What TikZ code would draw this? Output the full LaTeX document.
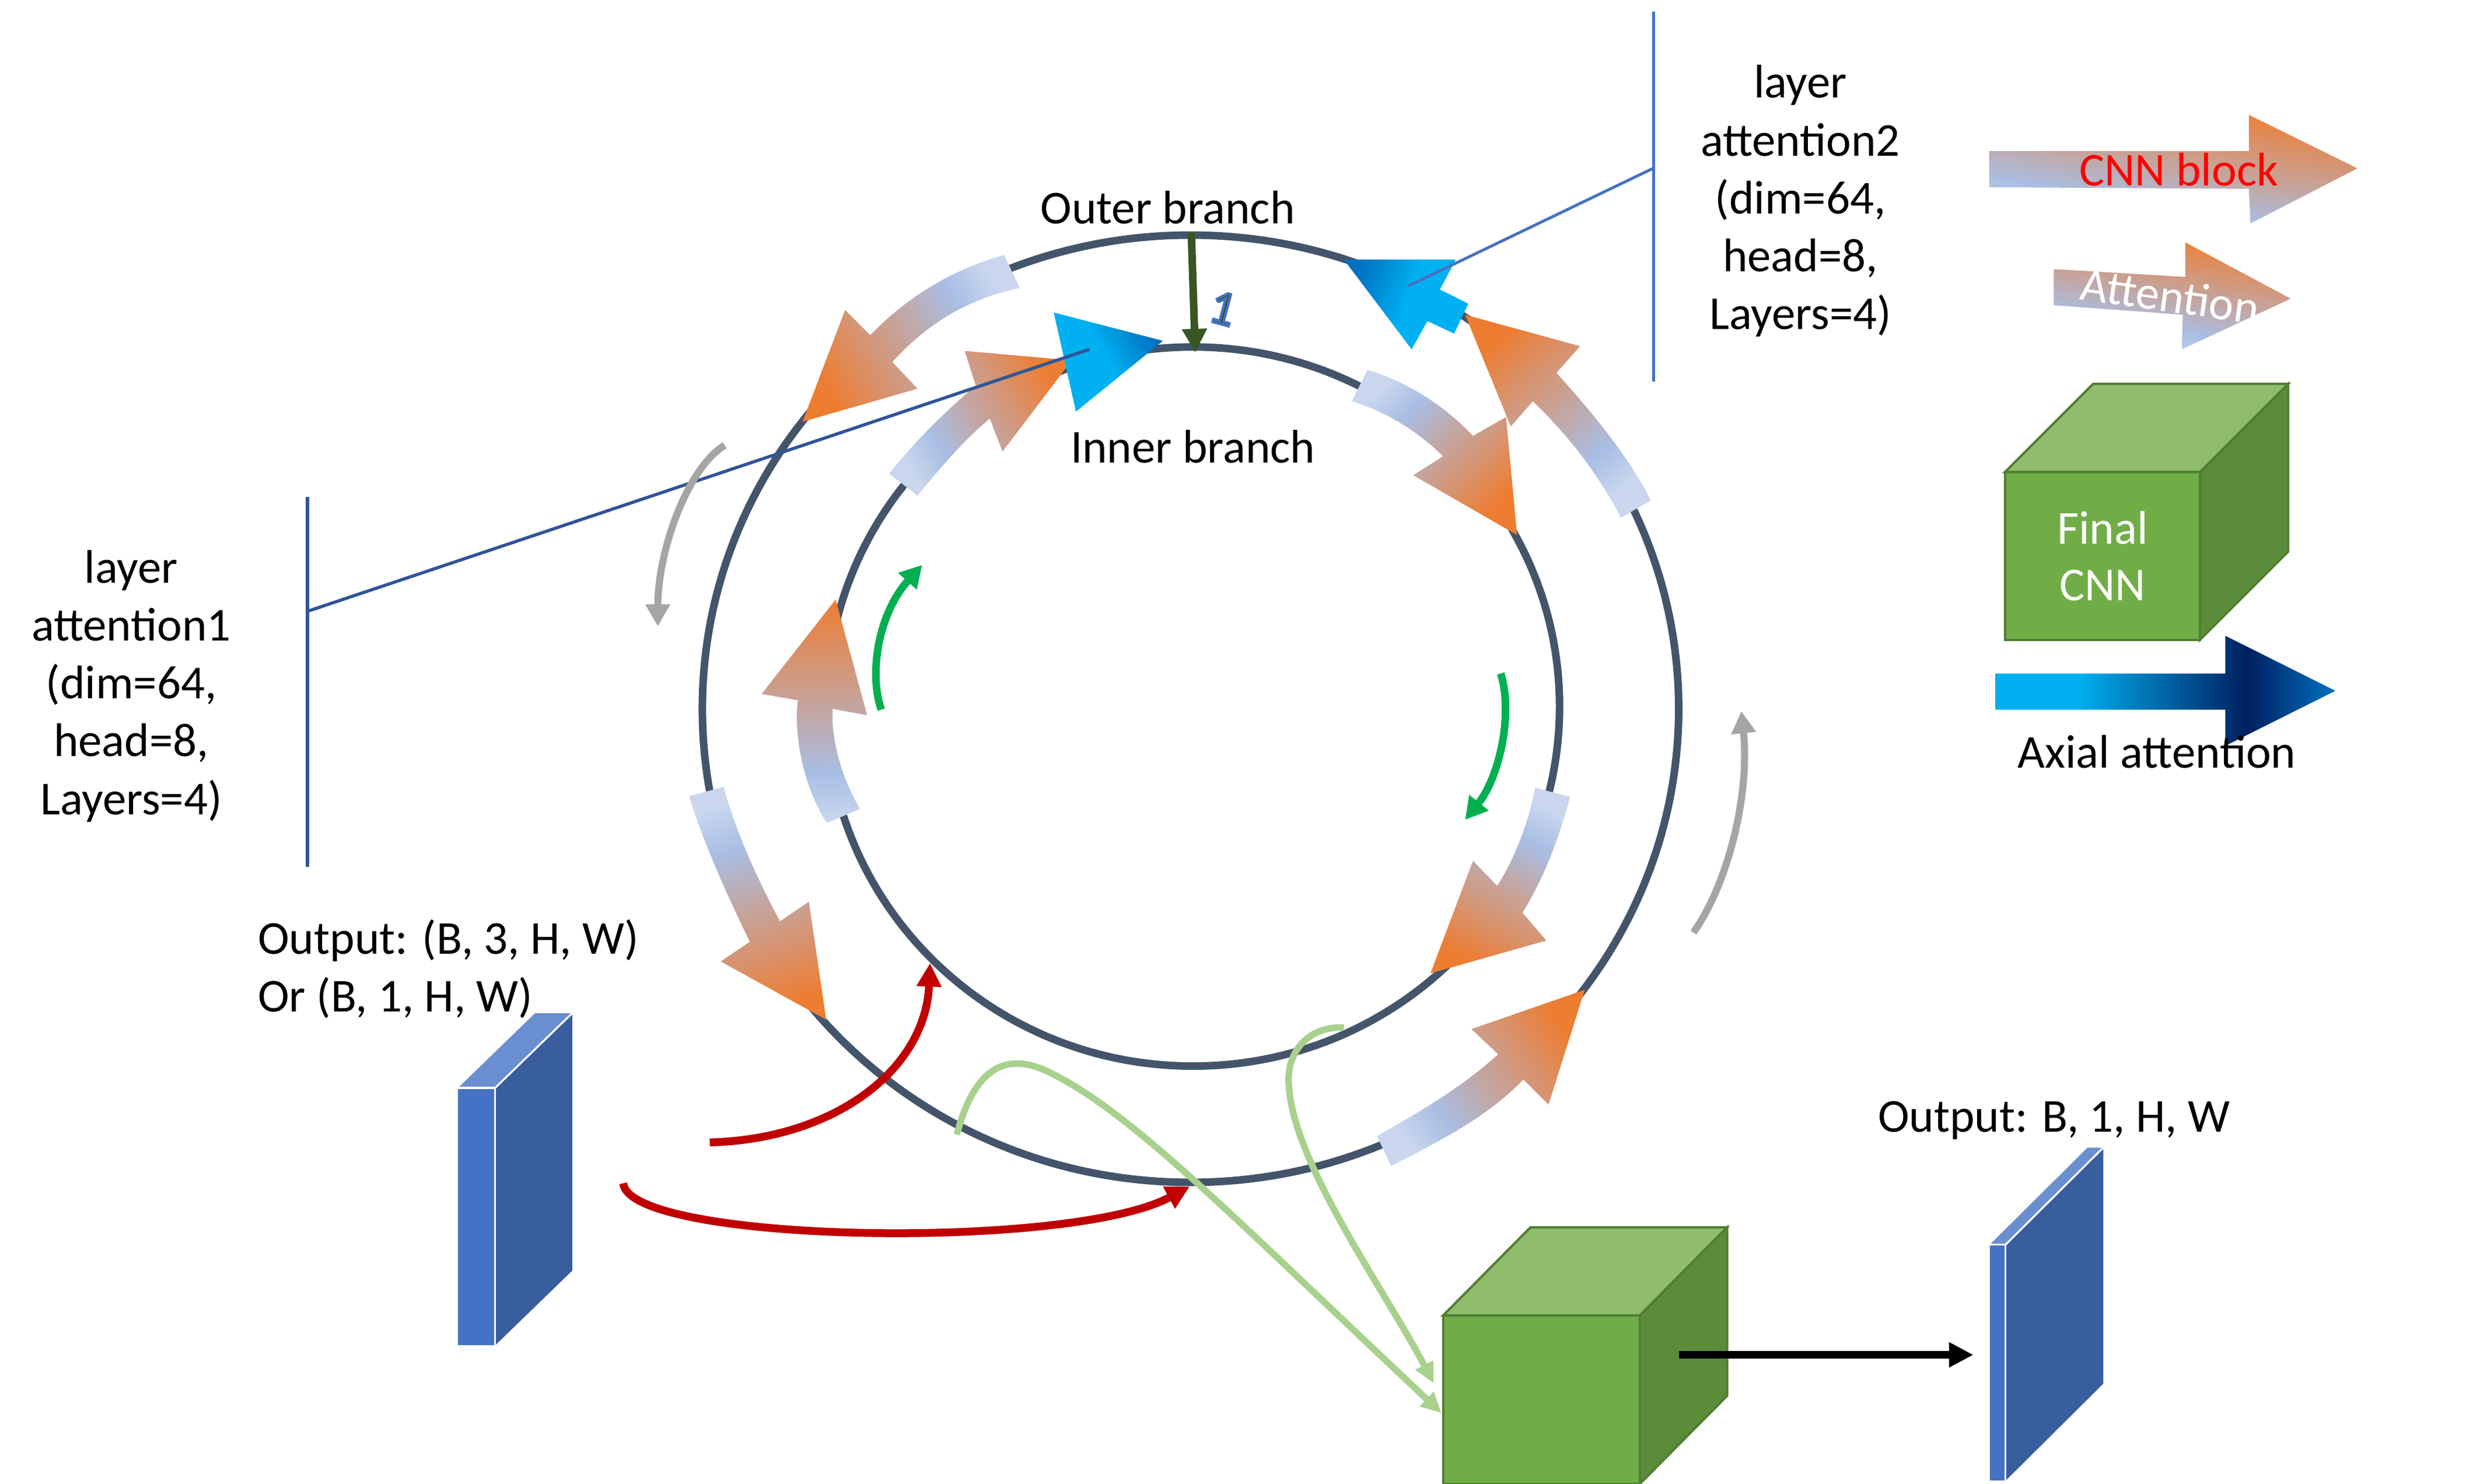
\documentclass[tikz,border=0pt]{standalone}
\usepackage{fontspec}
\setmainfont{Carlito}
\usetikzlibrary{arrows.meta}
\definecolor{ring}{HTML}{44546A}
\definecolor{pale}{HTML}{C9D6EE}
\definecolor{lblue}{HTML}{A9BEE4}
\definecolor{mauve}{HTML}{C3A6A2}
\definecolor{tanc}{HTML}{D9916A}
\definecolor{orng}{HTML}{ED7D31}
\definecolor{cyanb}{HTML}{00B0F0}
\definecolor{deepb}{HTML}{0070C0}
\definecolor{navyb}{HTML}{002060}
\definecolor{redarr}{HTML}{C00000}
\definecolor{lgreen}{HTML}{A9D18E}
\definecolor{ggreen}{HTML}{00B050}
\definecolor{grayarr}{HTML}{A5A5A5}
\definecolor{dgreen}{HTML}{375623}
\definecolor{linkA}{HTML}{2F5597}
\definecolor{linkB}{HTML}{4472C4}
\definecolor{cubeF}{HTML}{70AD47}
\definecolor{cubeT}{HTML}{8FBD6B}
\definecolor{cubeS}{HTML}{5B8C3A}
\definecolor{cubeE}{HTML}{507E32}
\definecolor{slabF}{HTML}{4472C4}
\definecolor{slabS}{HTML}{385E9D}
\definecolor{slabT}{HTML}{6A8FD0}
\pgfdeclarehorizontalshading{cnnshade}{100bp}{color(0bp)=(pale); color(25bp)=(pale); color(36bp)=(lblue); color(50bp)=(mauve); color(63bp)=(tanc); color(75bp)=(orng); color(100bp)=(orng)}
\pgfdeclarehorizontalshading{blueshade}{100bp}{color(0bp)=(cyanb); color(25bp)=(cyanb); color(50bp)=(cyanb); color(75bp)=(deepb); color(100bp)=(deepb)}
\pgfdeclarehorizontalshading{axialshade}{100bp}{color(0bp)=(cyanb); color(25bp)=(cyanb); color(37bp)=(cyanb); color(62bp)=(navyb); color(75bp)=(deepb); color(100bp)=(deepb)}
\newcommand{\outlinedone}{\special{pdf:literal direct 2 Tr 1.6 w 0.267 0.447 0.769 RG}1\special{pdf:literal direct 0 Tr}}
\tikzset{
  ringline/.style={draw=ring, line width=4.8pt},
  cnnarrow/.style={shade, shading=cnnshade},
  axhead/.style={shade, shading=blueshade},
  txt/.style={font=\fontsize{30}{36.8}\selectfont, inner sep=0pt, outer sep=0pt},
  redarrow/.style={draw=redarr, line width=5pt, -{Triangle[length=15pt,width=15pt]}},
  grayarrow/.style={draw=grayarr, line width=4.5pt, -{Triangle[length=14pt,width=15pt]}},
  greenarrow/.style={draw=ggreen, line width=4.8pt, -{Triangle[length=14pt,width=15pt]}},
  lgarrow/.style={draw=lgreen, line width=4.2pt, -{Triangle[length=13pt,width=12pt]}},
  darrow/.style={draw=dgreen, line width=4.8pt, -{Triangle[length=15pt,width=15pt]}},
  blackarrow/.style={draw=black, line width=4.9pt, -{Triangle[length=15.5pt,width=15pt]}},
  linkone/.style={draw=linkA, line width=2pt},
  linktwo/.style={draw=linkB, line width=1.8pt},
  cubefront/.style={draw=cubeE, fill=cubeF, line width=1.5pt, inner sep=0pt, outer sep=0pt},
  cubetop/.style={draw=cubeE, fill=cubeT, line width=1.5pt},
  cubeside/.style={draw=cubeE, fill=cubeS, line width=1.5pt},
  slabfront/.style={fill=slabF, inner sep=0pt, outer sep=0pt},
  slabside/.style={fill=slabS},
  slabtop/.style={fill=slabT},
  slabedge/.style={draw=white, line width=1.2pt}
}
\begin{document}
\begin{tikzpicture}[x=1pt,y=-1pt]
\useasboundingbox (0,0) rectangle (1567,943);

% rings
\draw[ringline] (756.5,450.4) ellipse [x radius=310.2pt, y radius=301pt];
\draw[ringline] (758,449) ellipse [x radius=233pt, y radius=228.5pt];

% gradient CNN arrows on the rings
\path[cnnarrow, shading angle=209] (638,162) .. controls (610,170) and (580,185) .. (553,213) -- (537,197) -- (510,268) -- (583,247) -- (567,230) .. controls (590,205) and (615,190) .. (648,183) -- cycle;
\path[cnnarrow, shading angle=129] (1049,318) .. controls (1035,290) and (1010,260) .. (989,237) -- (1004,220) -- (931,200) -- (960,271) -- (974,255) .. controls (995,275) and (1015,300) .. (1030,329) -- cycle;
\path[cnnarrow, shading angle=-72] (438,506) .. controls (445,530) and (460,565) .. (476.5,598.5) -- (458,611) -- (525,648) -- (514,573) -- (495.6,585.5) .. controls (482,560) and (468,530) .. (459.8,500) -- cycle;
\path[cnnarrow, shading angle=34] (875,722) .. controls (905,705) and (930,690) .. (952,670) -- (935,654) -- (1007,629) -- (984,702) -- (968,686) .. controls (945,710) and (915,725) .. (884,741) -- cycle;
\path[cnnarrow, shading angle=30] (565,301) .. controls (580,282) and (600,262) .. (620,245) -- (613,223) -- (681,229) -- (637,287) -- (629,266) .. controls (612,280) and (597,298) .. (583,315) -- cycle;
\path[cnnarrow, shading angle=-44] (869,235) .. controls (895,243) and (918,258) .. (936,277) -- (957,265) -- (964,340) -- (898,302) -- (917,290) .. controls (902,275) and (882,262) .. (859,255) -- cycle;
\path[cnnarrow, shading angle=91] (525.5,523) .. controls (512,503) and (504,470) .. (507,445) -- (484,441) -- (531,381) -- (551,454.5) -- (529,450.5) .. controls (528,470) and (535,495) .. (546.5,514) -- cycle;
\path[cnnarrow, shading angle=-117] (975.5,500.5) .. controls (972,520) and (963,545) .. (951.4,563) -- (936,547) -- (909,618.5) -- (982.6,597.7) -- (967.4,580) .. controls (980,560) and (990,535) .. (997.7,506.5) -- cycle;

% axial attention heads
\path[axhead, shading angle=30] (669.6,198.6) -- (739,216.6) -- (683.7,261.6) -- cycle;
\path[axhead, shading angle=160] (854,165) -- (925,165) -- (915,184) -- (933,193) -- (924,212) -- (907,204) -- (897,222) -- cycle;

% outer -> inner arrow
\coordinate (outtop) at (757,148);
\coordinate (intop) at (759.5,224);
\draw[darrow] (outtop) -- (intop);
\node[font=\fontsize{31}{36}\selectfont, text=dgreen, rotate=-15, inner sep=0pt] (one) at (777,196) {\outlinedone};

% labels of branches
\node[txt, anchor=base] (outerlbl) at (742,142.2) {Outer branch};
\node[txt, anchor=base] (innerlbl) at (758,294) {Inner branch};

% layer attention 1
\node[txt, align=center] (la1txt) at (83.4,436) {layer\\attention1\\(dim=64,\\head=8,\\Layers=4)};
\coordinate (la1top) at (195.3,316);
\coordinate (la1bot) at (195.3,551);
\coordinate (la1mid) at (195.3,388.5);
\coordinate (ax1pt) at (692.3,222);
\draw[linkone] (la1top) -- (la1bot);
\draw[linkone] (la1mid) -- (ax1pt);

% layer attention 2
\node[txt, align=center] (la2txt) at (1144,127.8) {layer\\attention2\\(dim=64,\\head=8,\\Layers=4)};
\coordinate (la2top) at (1050.8,7.4);
\coordinate (la2bot) at (1050.8,242.5);
\coordinate (la2mid) at (1050.8,106.8);
\coordinate (ax2pt) at (895,181.7);
\draw[linktwo] (la2top) -- (la2bot);
\draw[linktwo] (la2mid) -- (ax2pt);

% gray arrows
\coordinate (g1s) at (460.5,283); \coordinate (g1e) at (418,398);
\draw[grayarrow] (g1s) .. controls (437,297) and (418,350) .. (g1e);
\coordinate (g2s) at (1076,592.6); \coordinate (g2e) at (1106.5,452);
\draw[grayarrow] (g2s) .. controls (1098,562) and (1112,505) .. (g2e);

% green arrows
\coordinate (gr1s) at (560,451); \coordinate (gr1e) at (586,359);
\draw[greenarrow] (gr1s) .. controls (552,428) and (558,390) .. (gr1e);
\coordinate (gr2s) at (953.6,428); \coordinate (gr2e) at (931,521);
\draw[greenarrow] (gr2s) .. controls (962,455) and (952,495) .. (gr2e);

% input slab
\node[txt, align=left, anchor=west] (inlbl) at (164,615.7) {Output: (B, 3, H, W)\\Or (B, 1, H, W)};
\node[slabfront, minimum width=23.6pt, minimum height=163.6pt] (inslab) at (302.8,773.2) {};
\fill[slabside] (inslab.north east) -- ++(49,-47.5) -- ++(0,163.6) -- (inslab.south east) -- cycle;
\fill[slabtop] (inslab.north west) -- ++(49,-47.5) -- ++(23.6,0) -- (inslab.north east) -- cycle;
\draw[slabedge] (inslab.north west) -- (inslab.north east) -- (inslab.south east);
\draw[slabedge] (inslab.north east) -- ++(49,-47.5);

% red arrows
\coordinate (r1s) at (451,726); \coordinate (r1e) at (591,612);
\draw[redarrow] (r1s) .. controls (530,724) and (588,680) .. (r1e);
\coordinate (r2s) at (396,752); \coordinate (r2e) at (756,754);
\draw[redarrow] (r2s) .. controls (400,790) and (680,795) .. (r2e);

% final CNN cube (bottom)
\node[cubefront, minimum width=125pt, minimum height=107pt] (fcnn) at (979.5,889.5) {};
\filldraw[cubetop] (fcnn.north west) -- ++(55.5,-56) -- ++(125,0) -- (fcnn.north east) -- cycle;
\filldraw[cubeside] (fcnn.north east) -- ++(55.5,-56) -- ++(0,107) -- (fcnn.south east) -- cycle;

% light green arrows
\coordinate (lg1s) at (608,721); \coordinate (lg1m) at (668,682); \coordinate (lg1e) at (916,898);
\draw[lgarrow] (lg1s) .. controls (622,668) and (648,672) .. (lg1m) .. controls (720,708) and (780,770) .. (lg1e);
\coordinate (lg2s) at (854,653); \coordinate (lg2m) at (819,690); \coordinate (lg2e) at (911,879);
\draw[lgarrow] (lg2s) .. controls (830,652) and (817,670) .. (lg2m) .. controls (822,740) and (880,820) .. (lg2e);

% output slab
\node[txt, anchor=base west] (outlbl) at (1193.4,719.5) {Output: B, 1, H, W};
\node[slabfront, minimum width=10pt, minimum height=150pt] (outslab) at (1269.4,866) {};
\fill[slabside] (outslab.north east) -- ++(62.1,-61.7) -- ++(0,150) -- (outslab.south east) -- cycle;
\fill[slabtop] (outslab.north west) -- ++(62.1,-61.7) -- ++(10,0) -- (outslab.north east) -- cycle;
\draw[slabedge] (outslab.north west) -- (outslab.north east) -- (outslab.south east);
\draw[slabedge] (outslab.north east) -- ++(62.1,-61.7);

\coordinate (bas) at (1067,861); \coordinate (bae) at (1254,861);
\draw[blackarrow] (bas) -- (bae);

% legend
\path[shade, shading=cnnshade, shading angle=80] (1264,96) -- (1429,96) -- (1429,73) -- (1498,107) -- (1430,142) -- (1429,120) -- (1264,119) -- cycle;
\node[txt, anchor=base, text=red] (cnnlbl) at (1384.5,118) {CNN block};
\path[shade, shading=cnnshade, shading angle=80] (1305,171) -- (1388.6,176) -- (1388.6,154) -- (1455.6,189.8) -- (1386.4,222) -- (1387,200) -- (1305,194) -- cycle;
\node[txt, text=white, rotate=-8] (attlbl) at (1379,188) {Attention};

\node[cubefront, minimum width=124pt, minimum height=106.5pt, text=white, align=center, font=\fontsize{30}{36}\selectfont] (legcube) at (1336,353.25) {Final\\CNN};
\filldraw[cubetop] (legcube.north west) -- ++(56,-56) -- ++(124,0) -- (legcube.north east) -- cycle;
\filldraw[cubeside] (legcube.north east) -- ++(56,-56) -- ++(0,106.5) -- (legcube.south east) -- cycle;

\path[shade, shading=axialshade, shading angle=0] (1268,428) -- (1414,428) -- (1414,404) -- (1484,439) -- (1414,474) -- (1414,451) -- (1268,451) -- cycle;
\node[txt, anchor=base] (axlbl) at (1370.5,488) {Axial attention};
\end{tikzpicture}
\end{document}
